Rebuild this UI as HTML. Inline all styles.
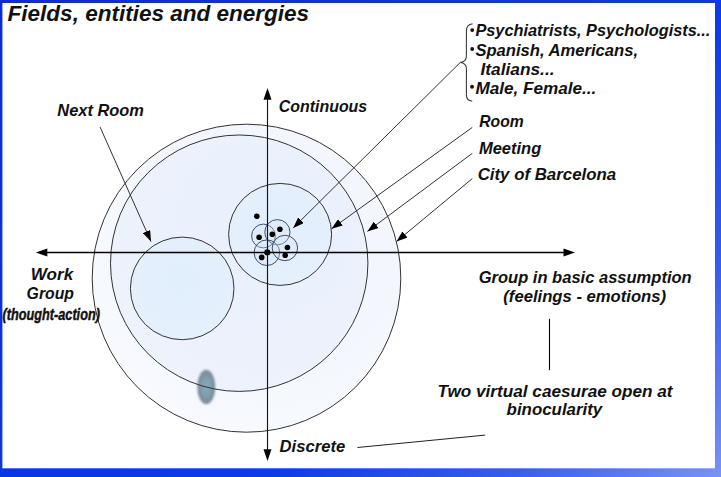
<!DOCTYPE html>
<html><head><meta charset="utf-8">
<style>
html,body{margin:0;padding:0;width:721px;height:477px;overflow:hidden;background:#fff}
svg{display:block}
text{font-family:"Liberation Sans",sans-serif;font-weight:bold;font-style:italic;fill:#111}
</style></head><body>
<svg width="721" height="477" viewBox="0 0 721 477">
<defs>
<linearGradient id="fr" x1="0" y1="0" x2="598" y2="598" gradientUnits="userSpaceOnUse">
<stop offset="0" stop-color="#0a2ade"/>
<stop offset="0.62" stop-color="#0c3ce6"/>
<stop offset="0.70" stop-color="#2048e6"/>
<stop offset="0.82" stop-color="#365ce9"/>
<stop offset="1" stop-color="#7a92f2"/>
</linearGradient>
<radialGradient id="g1" cx="0.6" cy="0.35" r="0.7">
<stop offset="0.6" stop-color="#f3f7fd"/>
<stop offset="1" stop-color="#f8fafe"/>
</radialGradient>
<radialGradient id="g2" cx="0.6" cy="0.35" r="0.7">
<stop offset="0" stop-color="#eaf0fc"/>
<stop offset="1" stop-color="#edf2fc"/>
</radialGradient>
<radialGradient id="g3" cx="0.5" cy="0.4" r="0.6">
<stop offset="0" stop-color="#e1eefc"/>
<stop offset="1" stop-color="#e5f0fc"/>
</radialGradient>
<radialGradient id="ge" cx="0.5" cy="0.5" r="0.5">
<stop offset="0" stop-color="#84a8b6"/>
<stop offset="0.5" stop-color="#7fa2b0"/>
<stop offset="0.82" stop-color="#7a8c9a"/>
<stop offset="1" stop-color="#8c96a2"/>
</radialGradient>
<filter id="bl" x="-1" y="-1" width="3" height="3"><feGaussianBlur stdDeviation="0.9"/></filter>
<marker id="ah" markerWidth="12" markerHeight="8" refX="11" refY="4" orient="auto" markerUnits="userSpaceOnUse">
<path d="M0,0 L11,4 L0,8 Z" fill="#000"/>
</marker>
</defs>
<rect x="0" y="0" width="721" height="477" fill="url(#fr)"/>
<rect x="2.4" y="3" width="712.6" height="465.3" fill="#fff"/>

<!-- circles -->
<ellipse cx="246.5" cy="278.2" rx="154.3" ry="154" fill="url(#g1)"/>
<ellipse cx="239.2" cy="263.2" rx="128.7" ry="128.2" fill="url(#g2)"/>
<ellipse cx="182.2" cy="288.4" rx="51.8" ry="51.3" fill="url(#g3)"/>
<ellipse cx="280.1" cy="234.4" rx="51.5" ry="51" fill="url(#g3)"/>
<ellipse cx="206.3" cy="387" rx="9.1" ry="17.3" fill="url(#ge)" filter="url(#bl)"/>
<g fill="none" stroke="#333" stroke-width="1">
<ellipse cx="246.5" cy="278.2" rx="154.3" ry="154"/>
<ellipse cx="239.2" cy="263.2" rx="128.7" ry="128.2"/>
<ellipse cx="182.2" cy="288.4" rx="51.8" ry="51.3"/>
<ellipse cx="280.1" cy="234.4" rx="51.5" ry="51"/>
</g>

<g fill="#d6e3f2" fill-opacity="0.3" stroke="#3a4860" stroke-width="0.95">
<circle cx="263.5" cy="236" r="11.9"/>
<circle cx="277.4" cy="232.2" r="12.6"/>
<circle cx="266.9" cy="252.7" r="12.8"/>
<circle cx="284.9" cy="248" r="12.7"/>
</g>

<!-- axes -->
<line x1="47" y1="252.5" x2="564" y2="252.5" stroke="#000" stroke-width="1.3"/>
<path d="M35.8,252.5 L47.3,248.5 L47.3,256.5 Z" fill="#000"/>
<path d="M575,252.5 L563.5,248.5 L563.5,256.5 Z" fill="#000"/>
<line x1="267.5" y1="99" x2="267.5" y2="450" stroke="#111" stroke-width="1.1"/>
<path d="M267.5,88 L263.5,99.8 L271.5,99.8 Z" fill="#000"/>
<path d="M267.5,460.9 L263.5,449.3 L271.5,449.3 Z" fill="#000"/>

<g fill="#000">
<circle cx="256.8" cy="216.3" r="2.8"/>
<circle cx="279.9" cy="229.2" r="2.8"/>
<circle cx="272.3" cy="234.3" r="2.8"/>
<circle cx="259.1" cy="237.2" r="2.8"/>
<circle cx="267.3" cy="252.4" r="3.1"/>
<circle cx="261.7" cy="257.4" r="2.8"/>
<circle cx="287.4" cy="247.5" r="2.8"/>
<circle cx="285.2" cy="255.2" r="2.8"/>
</g>

<!-- pointer arrows -->
<g stroke="#333" stroke-width="1" fill="none" marker-end="url(#ah)">
<line x1="460.3" y1="62.4" x2="293.2" y2="227.9"/>
<line x1="472.3" y1="127.4" x2="331.5" y2="228.8"/>
<line x1="472.3" y1="153.3" x2="367.4" y2="231.4"/>
<line x1="472.3" y1="178.6" x2="396.5" y2="241.5"/>
<line x1="100.1" y1="127.1" x2="151" y2="241.6"/>
</g>
<line x1="357.4" y1="447.5" x2="485.2" y2="435.1" stroke="#222" stroke-width="1"/>
<line x1="549.5" y1="318.8" x2="549.5" y2="370.2" stroke="#000" stroke-width="1.1"/>
<!-- brace -->
<path d="M472.6,23.8 Q466.4,24.5 466.4,31 L466.4,56 Q466.4,61.8 460.3,62.4 Q466.4,63 466.4,68.5 L466.4,95 Q466.4,100.6 472.2,101.2" stroke="#333" stroke-width="1.05" fill="none"/>

<!-- texts -->
<text x="7.6" y="20.8" font-size="21.8" textLength="301.5" lengthAdjust="spacingAndGlyphs">Fields, entities and energies</text>
<text x="278.8" y="111.9" font-size="16.6" textLength="88.4" lengthAdjust="spacingAndGlyphs">Continuous</text>
<text x="57.3" y="116" font-size="16.4" textLength="86.6" lengthAdjust="spacingAndGlyphs">Next Room</text>
<circle cx="472.2" cy="30.1" r="1.95" fill="#111"/><text x="475.4" y="35.8" font-size="16.4" textLength="235" lengthAdjust="spacingAndGlyphs">Psychiatrists, Psychologists...</text>
<circle cx="472.2" cy="49" r="1.95" fill="#111"/><text x="475.4" y="56" font-size="16.4" textLength="162.6" lengthAdjust="spacingAndGlyphs">Spanish, Americans,</text>
<text x="480.5" y="75.3" font-size="16.4" textLength="74" lengthAdjust="spacingAndGlyphs">Italians...</text>
<circle cx="472" cy="86.8" r="1.95" fill="#111"/><text x="475.4" y="94.2" font-size="16.4" textLength="121" lengthAdjust="spacingAndGlyphs">Male, Female...</text>
<text x="479.3" y="126.9" font-size="17" textLength="44.4" lengthAdjust="spacingAndGlyphs">Room</text>
<text x="478.9" y="153.5" font-size="17" textLength="62.4" lengthAdjust="spacingAndGlyphs">Meeting</text>
<text x="477.7" y="180" font-size="17.2" textLength="138.4" lengthAdjust="spacingAndGlyphs">City of Barcelona</text>
<text x="30.8" y="279.6" font-size="16.5" textLength="42.4" lengthAdjust="spacingAndGlyphs">Work</text>
<text x="26.6" y="299.2" font-size="16.5" textLength="47.4" lengthAdjust="spacingAndGlyphs">Group</text>
<text x="2.5" y="319.6" font-size="16.2" textLength="97.4" lengthAdjust="spacingAndGlyphs" stroke="#111" stroke-width="0.45">(thought-action)</text>
<text x="478.7" y="283.3" font-size="16.2" textLength="213" lengthAdjust="spacingAndGlyphs">Group in basic assumption</text>
<text x="503.3" y="302" font-size="16.2" textLength="162.8" lengthAdjust="spacingAndGlyphs">(feelings - emotions)</text>
<text x="437.6" y="396.7" font-size="16.8" textLength="235" lengthAdjust="spacingAndGlyphs">Two virtual caesurae open at</text>
<text x="506.6" y="415" font-size="16.8" textLength="95.6" lengthAdjust="spacingAndGlyphs">binocularity</text>
<text x="279.6" y="451.6" font-size="16.8" textLength="65.6" lengthAdjust="spacingAndGlyphs">Discrete</text>
</svg>
</body></html>
